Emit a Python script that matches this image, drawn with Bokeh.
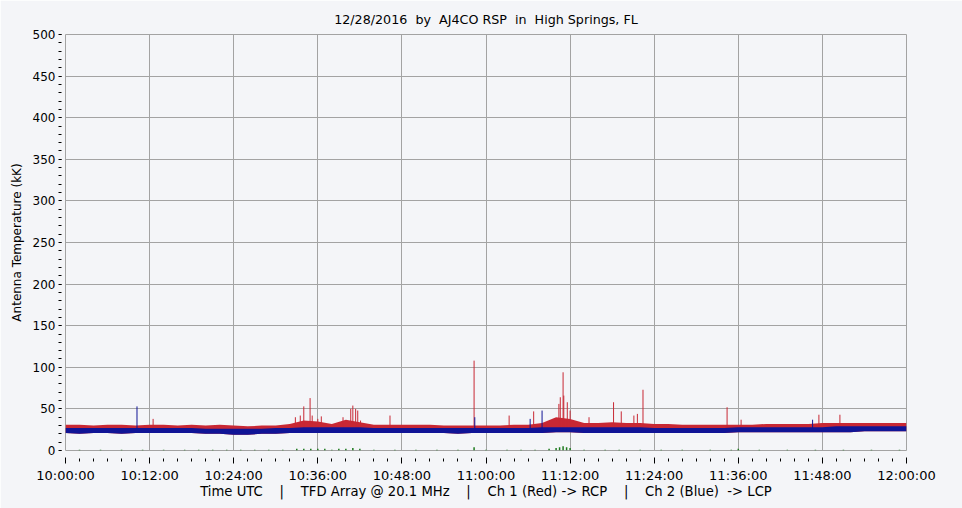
from bokeh.plotting import figure
from bokeh.models import Range1d, FixedTicker
from bokeh.embed import file_html
from bokeh.resources import INLINE

# ---- data (minutes after 10:00:00 UTC, antenna temperature in kK) ----
band_t = list(range(0, 121, 2))
red_top = [31, 31, 30, 31, 31, 30, 31, 31, 30, 31, 30, 31, 30, 29, 30, 30,
           32, 36, 35, 32, 37, 34, 31, 31, 31, 31, 31, 30, 30, 30, 30, 30,
           31, 31, 33, 40, 38, 33, 33, 34, 33, 33, 32, 32, 31, 31, 31, 31,
           31, 31, 32, 32, 32, 32, 33, 33, 33, 33, 33, 33, 33]
blue_top = [27, 27, 27, 27, 27, 27, 27, 27, 27, 27, 26, 26, 26, 26, 26, 27,
            27, 28, 28, 28, 28, 28, 27, 27, 27, 27, 27, 27, 27, 27, 27, 27,
            27, 27, 28, 28, 28, 28, 28, 28, 28, 28, 27, 27, 27, 27, 27, 27,
            28, 28, 28, 28, 28, 28, 28, 29, 29, 29, 29, 29, 29]
blue_bot = [21, 20, 21, 21, 20, 21, 21, 21, 21, 21, 20, 20, 19, 19, 20, 20,
            21, 21, 21, 21, 21, 21, 21, 21, 21, 21, 21, 21, 20, 21, 21, 21,
            21, 21, 21, 22, 22, 21, 21, 21, 21, 21, 21, 21, 21, 21, 21, 21,
            22, 22, 22, 22, 22, 22, 22, 22, 22, 23, 23, 23, 23]

red_spike_t = [12.5, 32.8, 33.5, 34.0, 34.9, 35.2, 36.0, 36.5, 39.6, 40.7, 41.0,
               41.4, 41.7, 42.1, 46.3, 58.3, 63.3, 66.8, 70.4, 70.6, 71.0, 71.1,
               71.6, 72.0, 74.7, 78.2, 79.3, 81.1, 81.6, 82.4, 94.4, 96.4, 107.5, 110.5]
red_spike_v = [38, 40, 42, 53, 63, 42, 38, 41, 40, 50, 54,
               50, 48, 36, 42, 108, 42, 47, 56, 64, 94, 66,
               58, 48, 40, 58, 47, 42, 44, 73, 52, 37, 43, 43]
blue_spike_t = [10.2, 58.4, 66.3, 68.0, 106.6]
blue_spike_v = [53, 40, 38, 48, 37]

green_t = [2, 5, 8, 11, 14, 17, 19, 21, 23, 25, 27, 29, 31, 33, 34, 35, 36, 37,
           38, 39, 40, 41, 42, 44, 47, 50, 53, 56, 58.3, 60, 63, 65, 67, 69, 70,
           70.5, 71, 71.5, 72, 74, 77, 79, 82, 85, 88, 92, 95, 96, 99, 103, 107,
           111, 115, 119]
green_v = [1, 1, 1, 1, 1, 1, 1, 1, 1, 1, 1, 1, 1, 2, 2, 2, 2, 2,
           1, 2, 2, 3, 2, 1, 1, 1, 1, 1, 4, 1, 1, 1, 1, 2, 3,
           4, 5, 4, 3, 1, 1, 1, 1, 1, 1, 1, 1, 2, 1, 1, 1,
           1, 1, 1]

x_major = list(range(0, 121, 12))
x_minor = list(range(0, 121, 2))
x_labels = ["10:00:00", "10:12:00", "10:24:00", "10:36:00", "10:48:00", "11:00:00",
            "11:12:00", "11:24:00", "11:36:00", "11:48:00", "12:00:00"]
y_major = list(range(0, 501, 50))
y_minor = list(range(0, 501, 10))

NB = "\u00a0"
title_text = f"12/28/2016{NB*2}by{NB*2}AJ4CO RSP{NB*2}in{NB*2}High Springs, FL"
xlabel_text = (f"Time UTC{NB*4}|{NB*4}TFD Array @ 20.1 MHz{NB*4}|{NB*4}"
               f"Ch 1 (Red) -> RCP{NB*4}|{NB*4}Ch 2 (Blue){NB*2}-> LCP")

FONT = "DejaVu Sans"
BG = "#f4f5f8"
GRID = "#a3a3a3"

p = figure(width=962, height=508, output_backend="svg", toolbar_location=None,
           x_range=Range1d(0, 120), y_range=Range1d(0, 500),
           min_border_left=65, min_border_right=56, min_border_top=34, min_border_bottom=58,
           background_fill_color=BG, border_fill_color=BG,
           title=title_text)

p.outline_line_color = GRID
p.title.align = "center"
p.title.text_font = FONT
p.title.text_font_size = "12.7px"
p.title.text_font_style = "normal"
p.title.text_color = "#000000"
p.title.offset = 0
p.title.standoff = 15

# data
p.varea(x=band_t, y1=blue_bot, y2=red_top, fill_color="#c82834")
p.segment(x0=red_spike_t, y0=[28] * len(red_spike_t), x1=red_spike_t, y1=red_spike_v,
          line_color="#c82834", line_width=1)
p.varea(x=band_t, y1=blue_bot, y2=blue_top, fill_color="#101496")
p.segment(x0=blue_spike_t, y0=[26] * len(blue_spike_t), x1=blue_spike_t, y1=blue_spike_v,
          line_color="#101496", line_width=1)
p.segment(x0=green_t, y0=[0] * len(green_t), x1=green_t, y1=green_v,
          line_color="#1e7a1e", line_width=1.5)

# x axis
p.xaxis.ticker = FixedTicker(ticks=x_major, minor_ticks=x_minor)
p.xaxis.major_label_overrides = {t: l for t, l in zip(x_major, x_labels)}
p.xaxis.axis_line_color = None
p.xaxis.major_tick_in = -7
p.xaxis.major_tick_out = 13
p.xaxis.minor_tick_in = -8
p.xaxis.minor_tick_out = 11
p.xaxis.major_tick_line_color = "#000000"
p.xaxis.minor_tick_line_color = "#000000"
p.xaxis.major_label_standoff = 4
p.xaxis.axis_label = xlabel_text
p.xaxis.axis_label_standoff = -2

# y axis
p.yaxis.ticker = FixedTicker(ticks=y_major, minor_ticks=y_minor)
p.yaxis.axis_line_color = None
p.yaxis.major_tick_in = -4
p.yaxis.major_tick_out = 6
p.yaxis.minor_tick_in = -4
p.yaxis.minor_tick_out = 7
p.yaxis.major_tick_line_color = "#000000"
p.yaxis.minor_tick_line_color = "#000000"
p.yaxis.major_label_standoff = 3
p.yaxis.axis_label = "Antenna Temperature (kK)"
p.yaxis.axis_label_standoff = 6

for ax in (p.xaxis, p.yaxis):
    ax.major_label_text_font = FONT
    ax.major_label_text_font_size = "12px"
    ax.major_label_text_color = "#000000"
    ax.axis_label_text_font = FONT
    ax.axis_label_text_font_size = "12px"
    ax.axis_label_text_font_style = "normal"
    ax.axis_label_text_color = "#000000"
p.xaxis.major_label_text_font_size = "13px"
p.xaxis.axis_label_text_font_size = "13.2px"

p.xgrid.ticker = FixedTicker(ticks=x_major)
p.ygrid.ticker = FixedTicker(ticks=y_major)
for g in (p.xgrid, p.ygrid):
    g.grid_line_color = GRID
    g.grid_line_alpha = 1.0
    g.grid_line_width = 1

open("out.html", "w").write(file_html(p, INLINE))
